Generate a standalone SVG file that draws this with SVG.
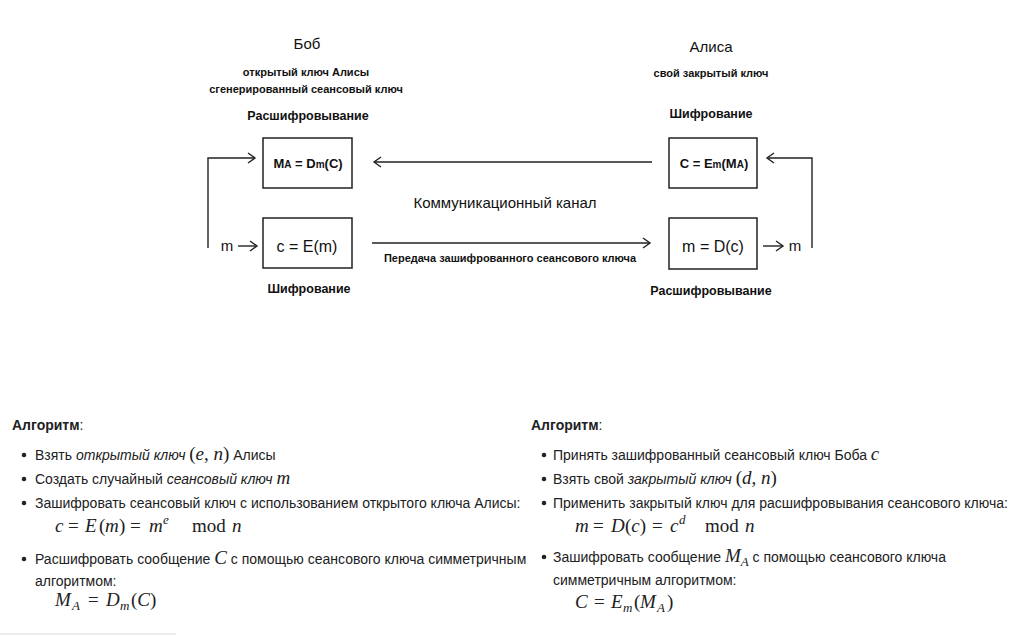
<svg xmlns="http://www.w3.org/2000/svg" width="1020" height="636" viewBox="0 0 1020 636">
<style>
  .d { font-family: "Liberation Sans", Arial, sans-serif; fill: #111; }
  .b { font-weight: bold; }
  .t { font-family: "Liberation Sans", Arial, sans-serif; font-size: 14px; fill: #202122; }
  .i { font-style: italic; }
  .m { font-family: "Liberation Serif", "Times New Roman", serif; font-size: 19px; fill: #202122; }
  .mi { font-style: italic; }
  .s { font-size: 13px; }
  .box { fill: #fff; stroke: #222; stroke-width: 1.5; }
  .ln { fill: none; stroke: #222; stroke-width: 1.4; }
</style>
<defs>
  <marker id="ah" markerWidth="12" markerHeight="12" refX="9" refY="6" orient="auto" markerUnits="userSpaceOnUse">
    <polyline points="2,1 9,6 2,11" fill="none" stroke="#222" stroke-width="1.4"/>
  </marker>
</defs>
<rect width="1020" height="636" fill="#fff"/>

<g id="headers">
  <text class="d" x="307" y="49" font-size="15" text-anchor="middle">Боб</text>
  <text class="d b" x="306" y="76" font-size="11" text-anchor="middle">открытый ключ Алисы</text>
  <text class="d b" x="306" y="93" font-size="11" text-anchor="middle">сгенерированный сеансовый ключ</text>
  <text class="d b" x="308" y="120" font-size="12.5" text-anchor="middle">Расшифровывание</text>
  <text class="d" x="711" y="52" font-size="15" text-anchor="middle">Алиса</text>
  <text class="d b" x="711" y="77" font-size="11" text-anchor="middle">свой закрытый ключ</text>
  <text class="d b" x="711" y="118" font-size="12.5" text-anchor="middle">Шифрование</text>
  <text class="d b" x="309" y="293" font-size="12.5" text-anchor="middle">Шифрование</text>
  <text class="d b" x="711" y="295" font-size="12.5" text-anchor="middle">Расшифровывание</text>
</g>

<g id="bob-decrypt">
  <rect class="box" x="263" y="138" width="89" height="50"/>
  <text class="d b" x="308" y="168" font-size="13" text-anchor="middle">M<tspan font-size="10">A</tspan> = D<tspan font-size="10">m</tspan>(C)</text>
</g>
<g id="bob-encrypt">
  <rect class="box" x="263" y="218" width="89" height="50"/>
  <text class="d" x="307" y="252" font-size="16" text-anchor="middle">c = E(m)</text>
</g>
<g id="alice-encrypt">
  <rect class="box" x="669" y="138" width="88" height="50"/>
  <text class="d b" x="714" y="168" font-size="13" text-anchor="middle">C = E<tspan font-size="10">m</tspan>(M<tspan font-size="10">A</tspan>)</text>
</g>
<g id="alice-decrypt">
  <rect class="box" x="669" y="218" width="88" height="51"/>
  <text class="d" x="713" y="252" font-size="16" text-anchor="middle">m = D(c)</text>
</g>

<g id="connectors">
  <line class="ln" x1="652" y1="162" x2="374" y2="162" marker-end="url(#ah)"/>
  <line class="ln" x1="372" y1="243" x2="650" y2="243" marker-end="url(#ah)"/>
  <path class="ln" d="M208,248 V158 H255" marker-end="url(#ah)"/>
  <line class="ln" x1="238" y1="246" x2="257" y2="246" marker-end="url(#ah)"/>
  <path class="ln" d="M812,248 V158 H767" marker-end="url(#ah)"/>
  <line class="ln" x1="763" y1="246" x2="783" y2="246" marker-end="url(#ah)"/>
  <text class="d" x="505" y="208" font-size="15" text-anchor="middle">Коммуникационный канал</text>
  <text class="d b" x="510" y="262" font-size="11" text-anchor="middle">Передача зашифрованного сеансового ключа</text>
  <text class="d" x="227" y="251" font-size="15" text-anchor="middle">m</text>
  <text class="d" x="795" y="251" font-size="15" text-anchor="middle">m</text>
</g>

<g id="bob-algorithm">
  <text class="t" x="12" y="430"><tspan font-weight="bold">Алгоритм</tspan>:</text>
  <circle cx="24" cy="455" r="2.3" fill="#202122"/>
  <text class="t" x="35" y="460">Взять <tspan class="i">открытый ключ</tspan> <tspan class="m">(<tspan class="mi">e</tspan>, <tspan class="mi">n</tspan>)</tspan> Алисы</text>
  <circle cx="24" cy="479" r="2.3" fill="#202122"/>
  <text class="t" x="35" y="484">Создать случайный <tspan class="i">сеансовый ключ</tspan> <tspan class="m mi">m</tspan></text>
  <circle cx="24" cy="503" r="2.3" fill="#202122"/>
  <text class="t" x="35" y="508">Зашифровать сеансовый ключ с использованием открытого ключа Алисы:</text>
  <text class="m" y="532"><tspan class="mi" x="55">c</tspan><tspan x="68">=</tspan><tspan class="mi" x="85">E</tspan><tspan x="99">(</tspan><tspan class="mi" x="105">m</tspan><tspan x="119">)</tspan><tspan x="130">=</tspan><tspan class="mi" x="149">m</tspan><tspan class="mi s" x="163" y="524">e</tspan><tspan x="192" y="532">mod</tspan><tspan class="mi" x="232">n</tspan></text>
  <circle cx="24" cy="559" r="2.3" fill="#202122"/>
  <text class="t" x="35" y="564">Расшифровать сообщение <tspan class="m mi">C</tspan> с помощью сеансового ключа симметричным</text>
  <text class="t" x="35" y="586">алгоритмом:</text>
  <text class="m" y="606"><tspan class="mi" x="55">M</tspan><tspan class="mi s" x="72" y="610">A</tspan><tspan x="88" y="606">=</tspan><tspan class="mi" x="106">D</tspan><tspan class="mi s" x="120" y="610">m</tspan><tspan x="131" y="606">(</tspan><tspan class="mi">C</tspan>)</text>
  <line x1="0" y1="634" x2="176" y2="634" stroke="#e6e6e6" stroke-width="1.5"/>
</g>

<g id="alice-algorithm">
  <text class="t" x="531" y="430"><tspan font-weight="bold">Алгоритм</tspan>:</text>
  <circle cx="544" cy="455" r="2.3" fill="#202122"/>
  <text class="t" x="553" y="460">Принять зашифрованный сеансовый ключ Боба <tspan class="m mi">c</tspan></text>
  <circle cx="544" cy="479" r="2.3" fill="#202122"/>
  <text class="t" x="553" y="484">Взять свой <tspan class="i">закрытый ключ</tspan> <tspan class="m">(<tspan class="mi">d</tspan>, <tspan class="mi">n</tspan>)</tspan></text>
  <circle cx="544" cy="503" r="2.3" fill="#202122"/>
  <text class="t" x="553" y="508">Применить закрытый ключ для расшифровывания сеансового ключа:</text>
  <text class="m" y="532"><tspan class="mi" x="575">m</tspan><tspan x="593">=</tspan><tspan class="mi" x="611">D</tspan><tspan x="625">(</tspan><tspan class="mi">c</tspan>)<tspan x="652">=</tspan><tspan class="mi" x="670">c</tspan><tspan class="mi s" x="679" y="524">d</tspan><tspan x="705" y="532">mod</tspan><tspan class="mi" x="745">n</tspan></text>
  <circle cx="544" cy="557" r="2.3" fill="#202122"/>
  <text class="t" x="553" y="562">Зашифровать сообщение <tspan class="m mi">M</tspan><tspan class="m mi s" dy="4">A</tspan><tspan dy="-4"> с помощью сеансового ключа</tspan></text>
  <text class="t" x="553" y="585">симметричным алгоритмом:</text>
  <text class="m" y="608"><tspan class="mi" x="575">C</tspan><tspan x="594">=</tspan><tspan class="mi" x="611">E</tspan><tspan class="mi s" x="623" y="612">m</tspan><tspan x="634" y="608">(</tspan><tspan class="mi" x="640">M</tspan><tspan class="mi s" x="657" y="612">A</tspan><tspan x="667" y="608">)</tspan></text>
</g>
</svg>
